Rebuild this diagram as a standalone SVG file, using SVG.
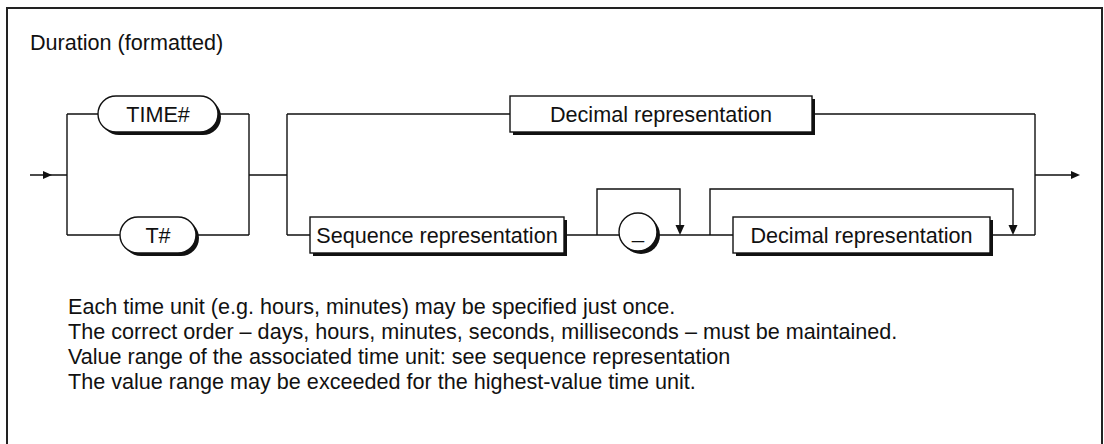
<svg xmlns="http://www.w3.org/2000/svg" width="1104" height="444" viewBox="0 0 1104 444">
<style>
text{font-family:"Liberation Sans",Arial,Helvetica,sans-serif;font-size:21.6px;fill:#111}
.lbl{text-anchor:middle}
.ln{fill:none;stroke:#111;stroke-width:1.4}
.arr{fill:#111;stroke:none}
.box{fill:#fff;stroke:#111;stroke-width:1.4}
.sh{fill:#111;stroke:none}
.frame{fill:#fff;stroke:#222;stroke-width:2}
</style>
<rect width="1104" height="444" fill="#fff"/>
<rect class="frame" x="7" y="8" width="1095" height="460"/>
<text x="30" y="50">Duration (formatted)</text>
<g id="connectors">
<path class="ln" d="M30 175H67M67 114V235M67 114H98M218 114H249M67 235H120M196 235H249M249 114V235M249 175H287M287 114V235M287 114H510M812 114H1035M287 235H310M564 235H733M597 235V189H680V226M710 235V189H1013V226M990 235H1035M1035 114V235M1035 175H1072"/>
<polygon class="arr" points="43,171 52,175 43,179"/>
<polygon class="arr" points="1071,171 1080,175 1071,179"/>
<polygon class="arr" points="675.5,225 684.5,225 680,235"/>
<polygon class="arr" points="1008.5,225 1017.5,225 1013,235"/>
</g>
<g id="n-time">
<rect class="sh" x="101" y="99" width="120" height="36" rx="18"/>
<rect class="box" x="98" y="96" width="120" height="36" rx="18"/>
<text class="lbl" x="158" y="121.5">TIME#</text>
</g>
<g id="n-t">
<rect class="sh" x="123" y="220" width="76" height="36" rx="18"/>
<rect class="box" x="120" y="217" width="76" height="36" rx="18"/>
<text class="lbl" x="158" y="242.5">T#</text>
</g>
<g id="n-dec1">
<rect class="sh" x="513" y="99" width="302" height="36"/>
<rect class="box" x="510" y="96" width="302" height="36"/>
<text class="lbl" x="661" y="121.5">Decimal representation</text>
</g>
<g id="n-seq">
<rect class="sh" x="313" y="220" width="254" height="36"/>
<rect class="box" x="310" y="217" width="254" height="36"/>
<text class="lbl" x="437" y="242.5">Sequence representation</text>
</g>
<g id="n-underscore">
<circle class="sh" cx="641" cy="235" r="19"/>
<circle class="box" cx="638" cy="232" r="19"/>
<text class="lbl" x="638" y="238">_</text>
</g>
<g id="n-dec2">
<rect class="sh" x="736" y="220" width="257" height="36"/>
<rect class="box" x="733" y="217" width="257" height="36"/>
<text class="lbl" x="861.5" y="242.5">Decimal representation</text>
</g>
<g id="notes">
<text x="68" y="314">Each time unit (e.g. hours, minutes) may be specified just once.</text>
<text x="68" y="339">The correct order – days, hours, minutes, seconds, milliseconds – must be maintained.</text>
<text x="68" y="364">Value range of the associated time unit: see sequence representation</text>
<text x="68" y="389">The value range may be exceeded for the highest-value time unit.</text>
</g>
</svg>
